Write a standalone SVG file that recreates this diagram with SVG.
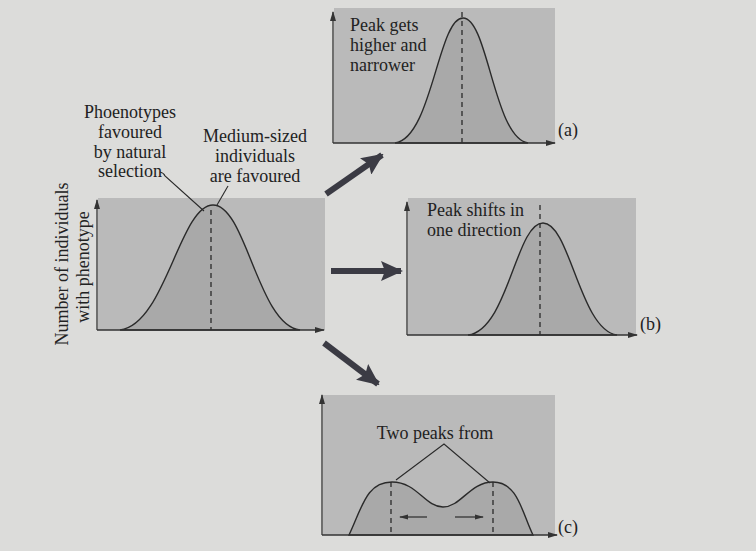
<svg xmlns="http://www.w3.org/2000/svg" width="756" height="551" viewBox="0 0 756 551">
<defs>
<marker id="ax" markerWidth="10" markerHeight="8" refX="9" refY="4" orient="auto" markerUnits="userSpaceOnUse">
<path d="M0,1 L10,4 L0,7 Z" fill="#333"/>
</marker>
<marker id="sm" markerWidth="9" markerHeight="6" refX="8" refY="3" orient="auto" markerUnits="userSpaceOnUse">
<path d="M0,0.5 L9,3 L0,5.5 Z" fill="#333"/>
</marker>
<marker id="big" markerWidth="22" markerHeight="20" refX="20" refY="10" orient="auto" markerUnits="userSpaceOnUse">
<path d="M0,0 L22,10 L0,20 L4,10 Z" fill="#3b3b44"/>
</marker>
</defs>
<style>
.box{fill:#bababa}
.curve{fill:#a9a9a9;stroke:#2a2a2a;stroke-width:1.4}
.axis{stroke:#333;stroke-width:1.3;fill:none}
.dash{stroke:#2a2a2a;stroke-width:1.3;stroke-dasharray:5,4;fill:none}
.lead{stroke:#2a2a2a;stroke-width:1.1;fill:none}
.big{stroke:#3b3b44;stroke-width:6;fill:none}
text{font-family:"Liberation Serif","DejaVu Serif",serif;font-size:18px;fill:#222}
</style>
<rect width="756" height="551" fill="#dcdcda"/>

<g id="main">
<rect class="box" x="98" y="198" width="227" height="132"/>
<path class="curve" d="M120,330 C165,325 180,205 213,205 C246,205 258,325 300,330 Z"/>
<line class="dash" x1="211" y1="210" x2="211" y2="330"/>
<line class="axis" x1="97" y1="330" x2="97" y2="200" marker-end="url(#ax)"/>
<line class="axis" x1="97" y1="330" x2="324" y2="330" marker-end="url(#ax)"/>
<g text-anchor="middle">
<text x="130" y="118">Phoenotypes</text>
<text x="130" y="138">favoured</text>
<text x="130" y="158">by natural</text>
<text x="130" y="177">selection</text>
<text x="255" y="142">Medium-sized</text>
<text x="255" y="162">individuals</text>
<text x="255" y="182">are favoured</text>
</g>
<path class="lead" d="M160,172 Q164,173 165,176 L204,211"/>
<line class="lead" x1="228" y1="186" x2="217" y2="205"/>
<g text-anchor="middle">
<text transform="translate(68,264) rotate(-90)">Number of individuals</text>
<text transform="translate(89,267) rotate(-90)">with phenotype</text>
</g>
</g>

<g id="chart-a">
<rect class="box" x="334" y="8" width="221" height="135"/>
<path class="curve" d="M395,143 C432,138 438,18 463,18 C488,18 494,138 528,143 Z"/>
<line class="dash" x1="462" y1="12" x2="462" y2="143"/>
<line class="axis" x1="333" y1="143" x2="333" y2="12" marker-end="url(#ax)"/>
<line class="axis" x1="333" y1="143" x2="555" y2="143" marker-end="url(#ax)"/>
<text x="350" y="31">Peak gets</text>
<text x="350" y="51">higher and</text>
<text x="350" y="71">narrower</text>
<text x="558" y="136">(a)</text>
</g>

<g id="chart-b">
<rect class="box" x="408" y="198" width="228" height="137"/>
<path class="curve" d="M468,335 C508,330 516,223 543,223 C570,223 580,330 617,335 Z"/>
<line class="dash" x1="540" y1="205" x2="540" y2="335"/>
<line class="axis" x1="407" y1="335" x2="407" y2="202" marker-end="url(#ax)"/>
<line class="axis" x1="407" y1="335" x2="637" y2="335" marker-end="url(#ax)"/>
<text x="427" y="216">Peak shifts in</text>
<text x="427" y="236">one direction</text>
<text x="640" y="330">(b)</text>
</g>

<g id="chart-c">
<rect class="box" x="323" y="395" width="232" height="140"/>
<path class="curve" d="M349,535 C362,508 366,482 392,482 C417,482 425,507 443,507 C461,507 470,482 493,482 C518,482 522,513 533,535 Z"/>
<line class="dash" x1="391" y1="482" x2="391" y2="535"/>
<line class="dash" x1="493" y1="482" x2="493" y2="535"/>
<line class="axis" x1="322" y1="535" x2="322" y2="395" marker-end="url(#ax)"/>
<line class="axis" x1="322" y1="535" x2="557" y2="535" marker-end="url(#ax)"/>
<text x="435" y="439" text-anchor="middle">Two peaks from</text>
<path class="lead" d="M396,480 L444,444 L490,483"/>
<line class="axis" x1="427" y1="517" x2="400" y2="517" marker-end="url(#sm)"/>
<line class="axis" x1="455" y1="517" x2="483" y2="517" marker-end="url(#sm)"/>
<text x="558" y="533">(c)</text>
</g>

<g id="connectors">
<line class="big" x1="326" y1="194" x2="382" y2="155" marker-end="url(#big)"/>
<line class="big" x1="331" y1="271" x2="401" y2="271" marker-end="url(#big)"/>
<line class="big" x1="324" y1="343" x2="378" y2="384" marker-end="url(#big)"/>
</g>
</svg>
